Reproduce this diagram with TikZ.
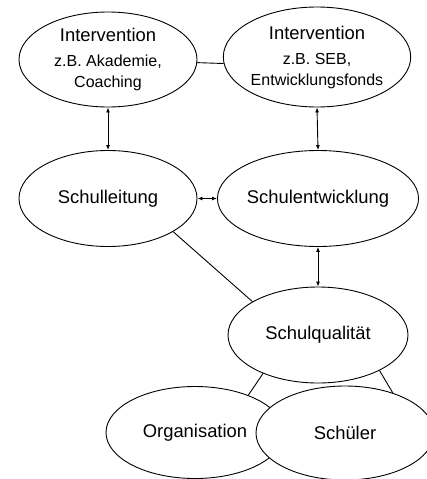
\documentclass[tikz,border=0pt]{standalone}
\usepackage{fontspec}
\setmainfont{Liberation Sans}
\usetikzlibrary{shapes.geometric,arrows.meta}
\newcommand{\subfont}{\fontsize{16}{19.5}\selectfont}
\tikzset{
  ell/.style={ellipse,draw,line width=0.9pt,fill=white,inner sep=0pt,align=center,
    font=\fontsize{18.4}{21}\selectfont},
  conn/.style={line width=0.9pt},
  arr/.style={line width=0.9pt,{Latex[length=5pt,width=4pt]}-{Latex[length=5pt,width=4pt]}}
}
\begin{document}
\begin{tikzpicture}[x=1pt,y=-1pt]
\useasboundingbox (0,0) rectangle (426,479);
\node[ell,minimum width=178pt,minimum height=95pt] (I1) at (108,59.5)
  {Intervention\\[4pt]{\subfont z.B. Akademie,}\\{\subfont Coaching}};
\node[ell,minimum width=182pt,minimum height=100pt] (I2) at (317,57)
  {Intervention\\[4pt]{\subfont z.B. SEB,}\\{\subfont Entwicklungsfonds}};
\node[ell,minimum width=178pt,minimum height=96pt] (SL) at (108,198.5) {Schulleitung};
\node[ell,minimum width=180pt,minimum height=96pt] (SE) at (318,198.5) {Schulentwicklung};
\node[ell,minimum width=180pt,minimum height=96pt] (SQ) at (318,335) {Schulqualität};
\node[ell,minimum width=178pt,minimum height=92pt] (OR) at (195,432.5) {Organisation};
\draw[conn] (SQ.215) -- (OR.35);
\node[ell,minimum width=178pt,minimum height=94pt] (SC) at (345,433) {Schüler};
\draw[conn] (SQ.-30) -- (SC.40);
\draw[conn] (I1.-2) -- (I2.184);
\draw[arr] (I1.south) -- (SL.north);
\draw[arr] (I2.south) -- (SE.north);
\draw[arr] (SL.east) -- (SE.west);
\draw[arr] (SE.south) -- (SQ.north);
\draw[conn] (SL.-27) -- (SQ.153);
\end{tikzpicture}
\end{document}
